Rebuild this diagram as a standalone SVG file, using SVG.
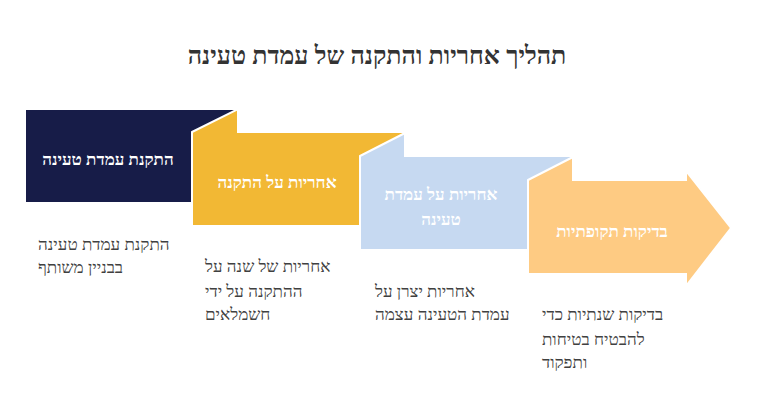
<svg xmlns="http://www.w3.org/2000/svg" width="757" height="420" viewBox="0 0 757 420">
<style>
.step{stroke:#fff;stroke-width:2;stroke-linejoin:miter}
.lbl{font-family:"Liberation Serif","Noto Serif Hebrew","Noto Serif","FreeSerif","DejaVu Serif",serif;font-size:17px;font-weight:bold;fill:#fff;text-anchor:middle}
.desc{font-family:"Liberation Serif","Noto Serif Hebrew","Noto Serif","FreeSerif","DejaVu Serif",serif;font-size:17px;fill:#404040;text-anchor:start}
.title{font-family:"Liberation Serif","Noto Serif Hebrew","Noto Serif","FreeSerif","DejaVu Serif",serif;font-size:25px;font-weight:bold;fill:#333;text-anchor:middle}
</style>
<rect width="757" height="420" fill="#fff"/>
<text class="title" x="377" y="64">תהליך אחריות והתקנה של עמדת טעינה</text>
<g id="connectors"></g>
<g id="step1">
<rect class="step" x="25" y="109" width="213" height="94" fill="#171c48"/>
<text class="lbl" x="108" y="165">התקנת עמדת טעינה</text>
</g>
<g id="step2">
<polygon class="step" points="192,132 238,109 238,132 405,132 405,226 192,226" fill="#f2b834"/>
<text class="lbl" x="277" y="188">אחריות על התקנה</text>
</g>
<g id="step3">
<polygon class="step" points="360,156 405,133 405,156 573,156 573,250 360,250" fill="#c6d9f1"/>
<text class="lbl" x="441" y="200">אחריות על עמדת</text>
<text class="lbl" x="441" y="225">טעינה</text>
</g>
<g id="step4">
<polygon class="step" points="528,180 573,157 573,180 686,180 686,171 731,228 686,286 686,274 528,274" fill="#fecb83"/>
<text class="lbl" x="612" y="237">בדיקות תקופתיות</text>
</g>
<g id="desc1">
<text class="desc" x="38" y="250">התקנת עמדת טעינה</text>
<text class="desc" x="38" y="273">בבניין משותף</text>
</g>
<g id="desc2">
<text class="desc" x="205" y="272">אחריות של שנה על</text>
<text class="desc" x="205" y="297">ההתקנה על ידי</text>
<text class="desc" x="205" y="320">חשמלאים</text>
</g>
<g id="desc3">
<text class="desc" x="375" y="297">אחריות יצרן על</text>
<text class="desc" x="375" y="320">עמדת הטעינה עצמה</text>
</g>
<g id="desc4">
<text class="desc" x="542" y="320">בדיקות שנתיות כדי</text>
<text class="desc" x="542" y="345">להבטיח בטיחות</text>
<text class="desc" x="542" y="368">ותפקוד</text>
</g>
</svg>
